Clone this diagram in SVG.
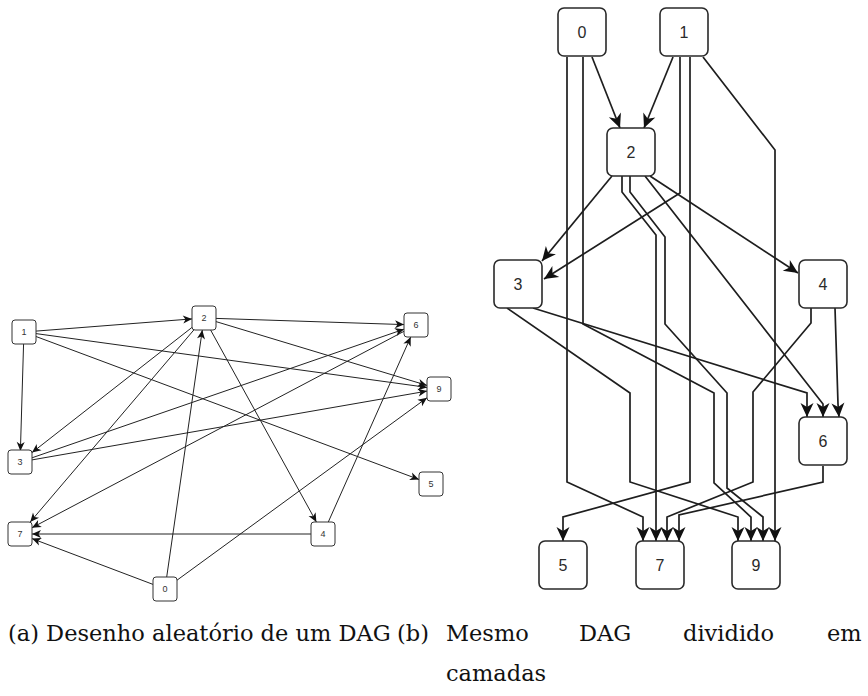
<svg xmlns="http://www.w3.org/2000/svg" width="868" height="696" viewBox="0 0 868 696">
  <style>
    .na rect { fill: #fff; stroke: #333; stroke-width: 1; }
    .na text { font-family: "Liberation Sans", Arial, sans-serif; font-size: 9px; fill: #333; text-anchor: middle; dominant-baseline: central; }
    .nb rect { fill: #fff; stroke: #2a2a2a; stroke-width: 1.6; }
    .nb text { font-family: "Liberation Sans", Arial, sans-serif; font-size: 16px; fill: #2a2a2a; text-anchor: middle; dominant-baseline: central; }
    .ea path { fill: none; stroke: #222; stroke-width: 1; marker-end: url(#arrA); }
    .eb path { fill: none; stroke: #1e1e1e; stroke-width: 1.7; stroke-linejoin: miter; marker-end: url(#arrB); }
    .cap { font-family: "DejaVu Serif", "Liberation Serif", "Times New Roman", serif; font-size: 22.5px; fill: #111; }
  </style>
  <defs>
    <marker id="arrA" markerUnits="userSpaceOnUse" markerWidth="10" markerHeight="8" refX="9" refY="4" orient="auto" overflow="visible">
      <path d="M9,4 L0,0 L2.5,4 L0,8 Z" fill="#111"/>
    </marker>
    <marker id="arrB" markerUnits="userSpaceOnUse" markerWidth="15" markerHeight="13" refX="14" refY="6.5" orient="auto" overflow="visible">
      <path d="M14,6.5 L0,0 L4,6.5 L0,13 Z" fill="#111"/>
    </marker>
  </defs>

  <rect width="868" height="696" fill="#fff"/>

  <!-- (a) random drawing: edges -->
  <g id="edges-a" class="ea">
    <path d="M36,331.1 L192,318.9"/>
    <path d="M23.6,343.1 L20.4,450.9"/>
    <path d="M36,333.6 L427,387.4"/>
    <path d="M36,336.5 L419,479.5"/>
    <path d="M216,318.4 L404,324.6"/>
    <path d="M216,321.6 L427,385.4"/>
    <path d="M192,327.4 L32,452.6"/>
    <path d="M193.8,330 L30.2,522"/>
    <path d="M210.6,330 L316.4,522"/>
    <path d="M32,457.8 L404,329.2"/>
    <path d="M32,459.9 L427,391.1"/>
    <path d="M328.3,522 L410.7,337"/>
    <path d="M311,534 L32,534"/>
    <path d="M166.7,577 L202.3,330"/>
    <path d="M153,584.4 L32,538.6"/>
    <path d="M177,580.2 L427,397.8"/>
    <path d="M404,331.3 L32,527.7"/>
  </g>

  <!-- (a) nodes -->
  <g id="a1" class="na"><rect x="12" y="320" width="24" height="24" rx="3"/><text x="24" y="332">1</text></g>
  <g id="a2" class="na"><rect x="192" y="306" width="24" height="24" rx="3"/><text x="204" y="318">2</text></g>
  <g id="a6" class="na"><rect x="404" y="313" width="24" height="24" rx="3"/><text x="416" y="325">6</text></g>
  <g id="a9" class="na"><rect x="427" y="377" width="24" height="24" rx="3"/><text x="439" y="389">9</text></g>
  <g id="a3" class="na"><rect x="8" y="450" width="24" height="24" rx="3"/><text x="20" y="462">3</text></g>
  <g id="a5" class="na"><rect x="419" y="472" width="24" height="24" rx="3"/><text x="431" y="484">5</text></g>
  <g id="a7" class="na"><rect x="8" y="522" width="24" height="24" rx="3"/><text x="20" y="534">7</text></g>
  <g id="a4" class="na"><rect x="311" y="522" width="24" height="24" rx="3"/><text x="323" y="534">4</text></g>
  <g id="a0" class="na"><rect x="153" y="577" width="24" height="24" rx="3"/><text x="165" y="589">0</text></g>

  <!-- (b) layered drawing: edges -->
  <g id="edges-b" class="eb">
    <path d="M592,57 L620,128"/>
    <path d="M673,57 L644,128"/>
    <path d="M612,176 L542,261"/>
    <path d="M680,57 L680,193 L544,279"/>
    <path d="M650,176 L798,273"/>
    <path d="M645,176 L823,404 L823,417"/>
    <path d="M533,308 L807,393 L807,417"/>
    <path d="M835,308 L838,404 L839,417"/>
    <path d="M567,57 L567,482 L643,517 L643,541"/>
    <path d="M622,176 L622,192 L656,235 L656,541"/>
    <path d="M811,308 L811,323 L753,392 L753,482 L667,517 L667,541"/>
    <path d="M823,466 L823,482 L679,515 L679,541"/>
    <path d="M507,308 L630,393 L630,482 L738,517 L738,541"/>
    <path d="M583,57 L583,324 L714,393 L714,483 L751,517 L751,541"/>
    <path d="M630,176 L630,192 L665,237 L665,324 L727,393 L727,488 L763,517 L763,541"/>
    <path d="M703,57 L775,150 L775,541"/>
    <path d="M690,57 L690,482 L563,517 L563,541"/>
  </g>

  <!-- (b) nodes -->
  <g id="b0" class="nb"><rect x="558" y="8" width="48" height="48" rx="6"/><text x="582" y="32">0</text></g>
  <g id="b1" class="nb"><rect x="660" y="8" width="48" height="48" rx="6"/><text x="684" y="32">1</text></g>
  <g id="b2" class="nb"><rect x="607" y="128" width="48" height="48" rx="6"/><text x="631" y="152">2</text></g>
  <g id="b3" class="nb"><rect x="494" y="260" width="48" height="48" rx="6"/><text x="518" y="284">3</text></g>
  <g id="b4" class="nb"><rect x="799" y="260" width="48" height="48" rx="6"/><text x="823" y="284">4</text></g>
  <g id="b6" class="nb"><rect x="799" y="417" width="48" height="48" rx="6"/><text x="823" y="441">6</text></g>
  <g id="b5" class="nb"><rect x="539" y="541" width="48" height="48" rx="6"/><text x="563" y="565">5</text></g>
  <g id="b7" class="nb"><rect x="636" y="541" width="48" height="48" rx="6"/><text x="660" y="565">7</text></g>
  <g id="b9" class="nb"><rect x="732" y="541" width="48" height="48" rx="6"/><text x="756" y="565">9</text></g>

  <!-- captions: second caption justified, hanging indent after its label -->
  <text class="cap" x="8" y="641">(a) Desenho aleatório de um DAG</text>
  <text class="cap" x="397" y="641">(b)</text>
  <text class="cap" x="446" y="641">Mesmo</text>
  <text class="cap" x="579" y="641">DAG</text>
  <text class="cap" x="683" y="641">dividido</text>
  <text class="cap" x="827" y="641">em</text>
  <text class="cap" x="446" y="681">camadas</text>
</svg>
